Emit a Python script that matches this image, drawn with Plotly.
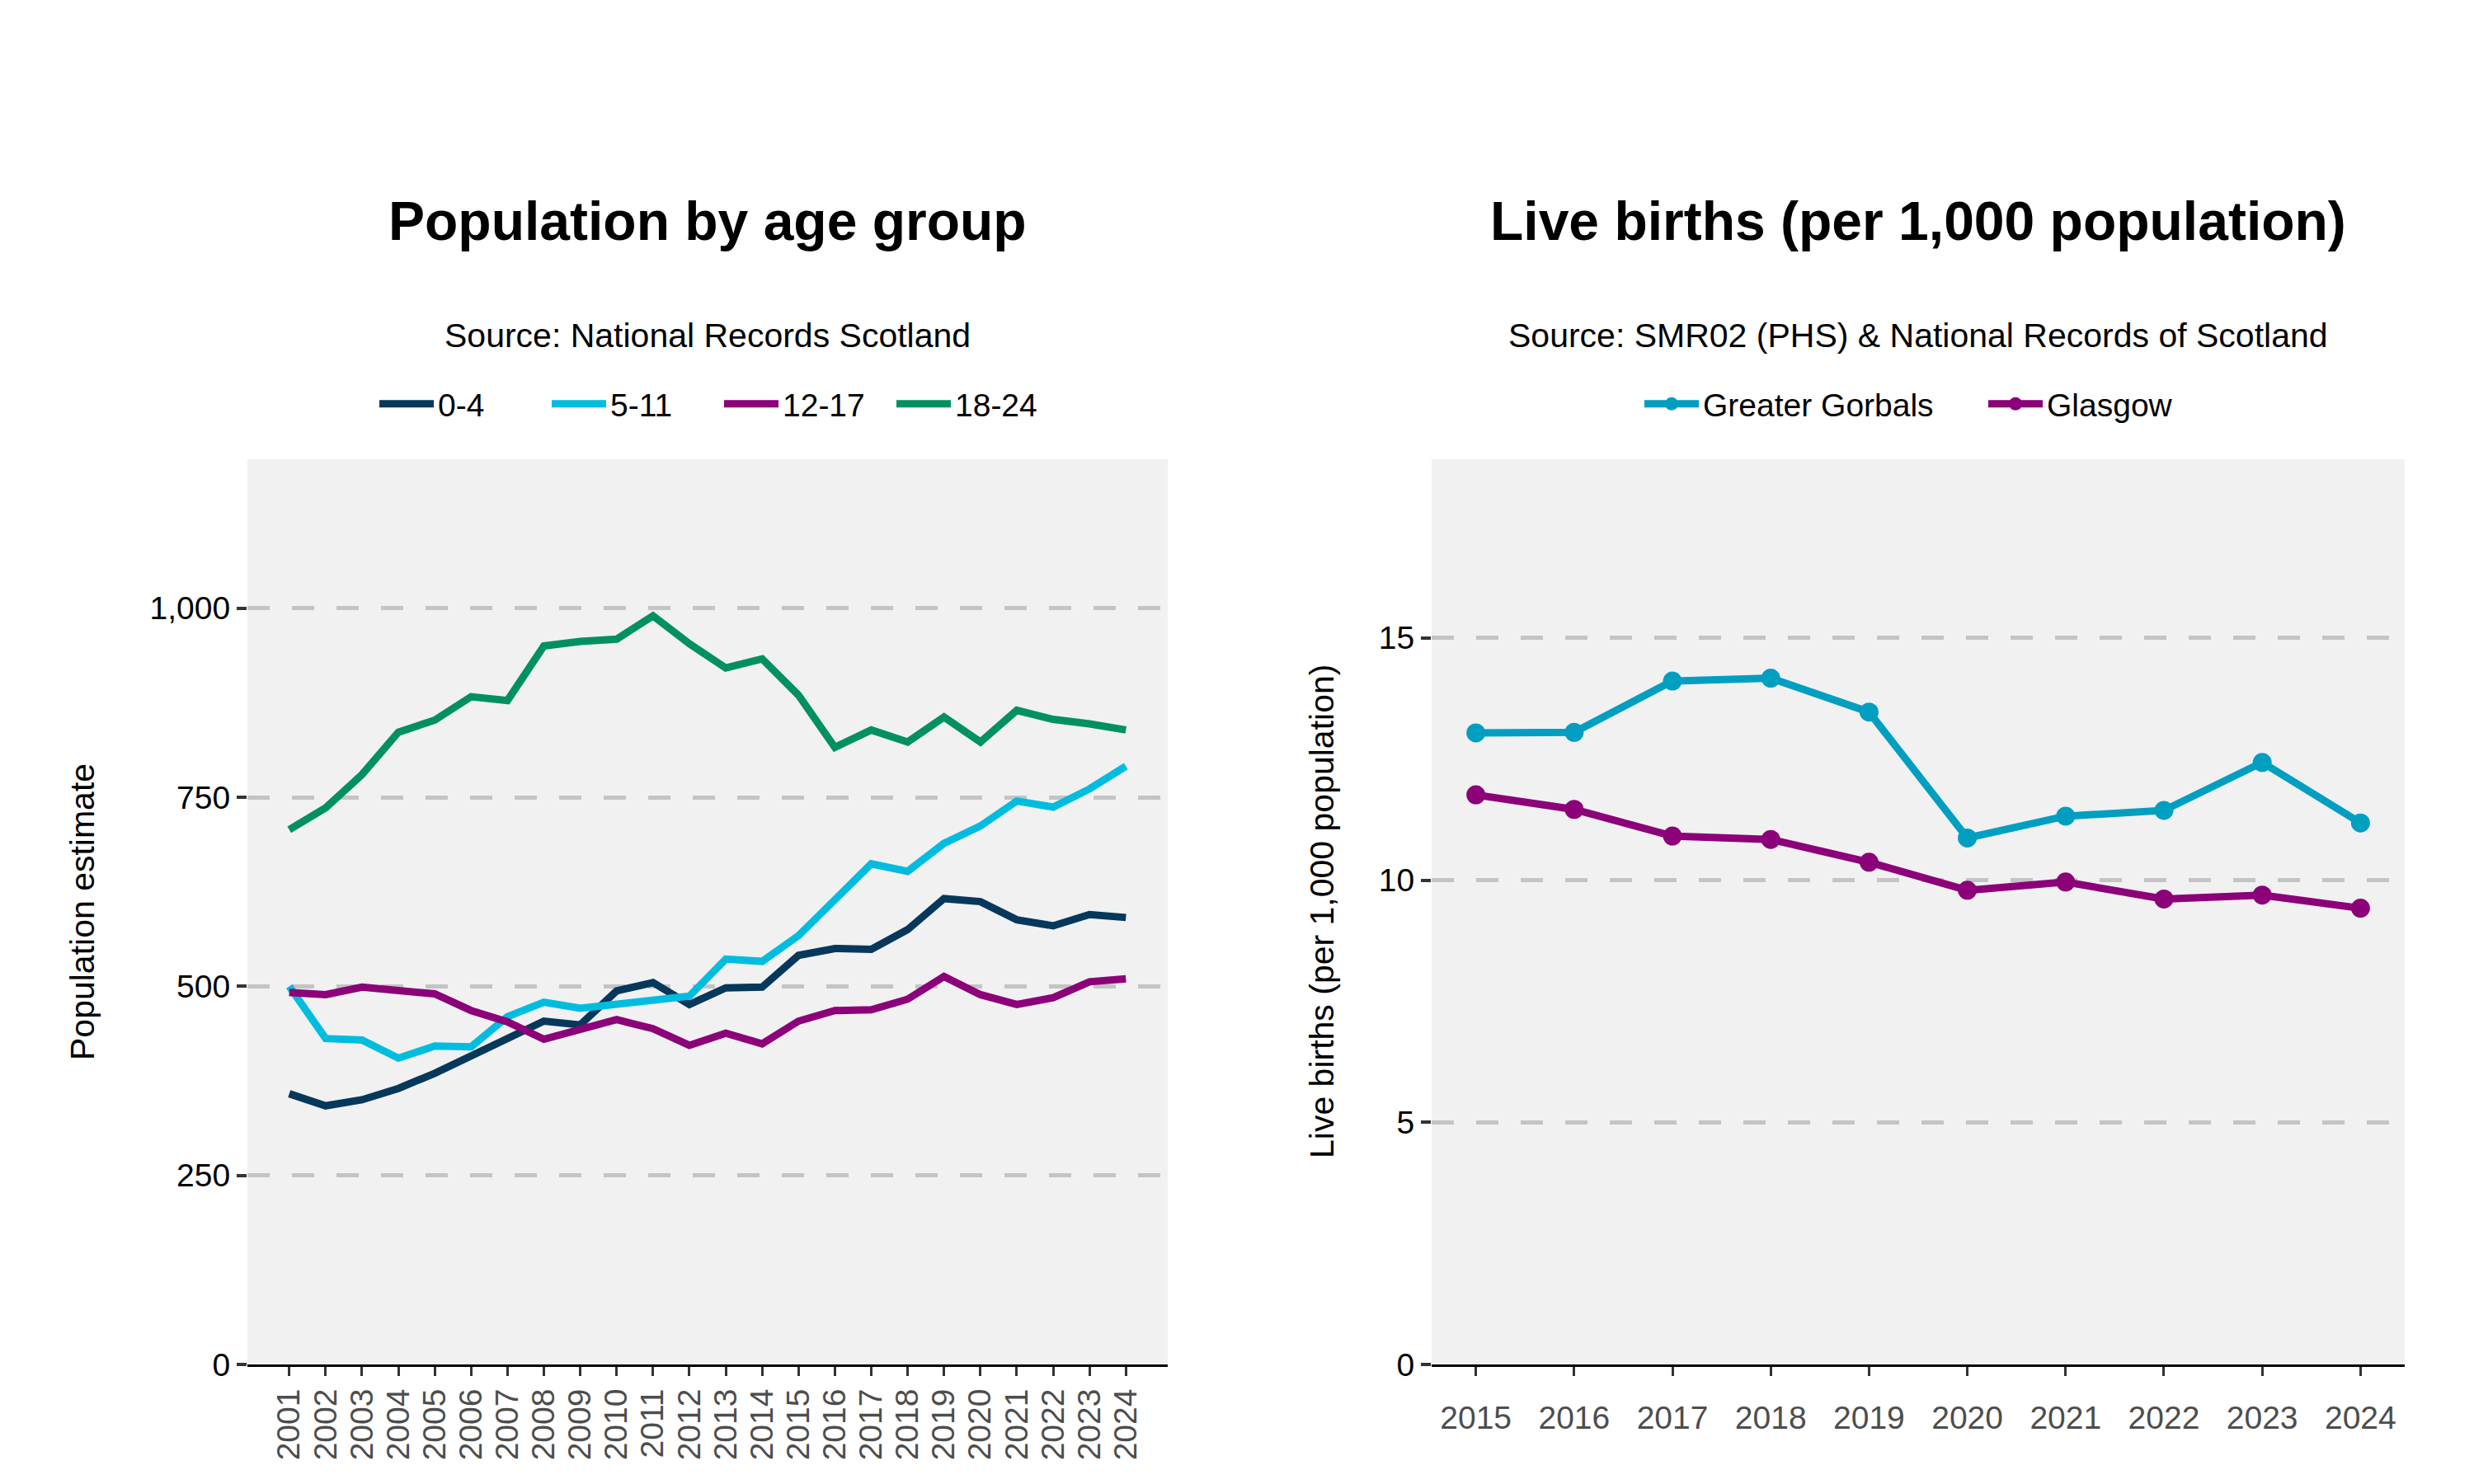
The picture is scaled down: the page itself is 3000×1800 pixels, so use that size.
import plotly.graph_objects as go

# ---------------- Data ----------------
years_pop = list(range(2001, 2025))
age_0_4 = [358, 342, 350, 365, 385, 408, 429, 454, 449, 494, 505, 476, 498, 499,
           541, 550, 549, 575, 616, 612, 588, 580, 595, 591]
age_5_11 = [500, 431, 429, 405, 421, 420, 460, 479, 471, 476, 480, 487, 536, 533,
            567, 615, 662, 652, 689, 712, 745, 737, 761, 791]
age_12_17 = [492, 489, 499, 494, 490, 468, 453, 430, 444, 456, 444, 422, 438, 424,
             454, 468, 469, 483, 513, 489, 476, 485, 506, 510]
age_18_24 = [707, 736, 780, 836, 852, 883, 878, 950, 956, 959, 990, 953, 921, 933,
             885, 816, 839, 823, 856, 823, 865, 853, 847, 839]
pop_series = ["0-4", "5-11", "12-17", "18-24"]

years_births = list(range(2015, 2025))
greater_gorbals = [13.04, 13.05, 14.11, 14.17, 13.47, 10.87, 11.32, 11.44, 12.43, 11.18]
glasgow = [11.76, 11.46, 10.91, 10.84, 10.37, 9.79, 9.96, 9.61, 9.69, 9.42]

pop_ticks = [0, 250, 500, 750, 1000]
birth_ticks = [0, 5, 10, 15]

# ---------------- Styles ----------------
FONT = "Liberation Sans"
c_navy = "#06385b"
c_cyan = "#00bde0"
c_purple = "#8c0079"
c_green = "#00915f"
c_teal = "#009fc2"
grid_col = "#c4c4c4"
bg_col = "#f1f1f1"

W, H = 3000, 1800
def px_x(p):
    return p / W
def px_y(p):
    return 1 - p / H

fig = go.Figure()

pop_data = [age_0_4, age_5_11, age_12_17, age_18_24]
pop_cols = [c_navy, c_cyan, c_purple, c_green]
for name, vals, col in zip(pop_series, pop_data, pop_cols):
    fig.add_trace(go.Scatter(
        x=years_pop, y=vals, name=name, mode="lines",
        line=dict(color=col, width=9), xaxis="x", yaxis="y", legend="legend"))

for name, vals, col in [("Greater Gorbals", greater_gorbals, c_teal),
                        ("Glasgow", glasgow, c_purple)]:
    fig.add_trace(go.Scatter(
        x=years_births, y=vals, name=name, mode="lines+markers",
        line=dict(color=col, width=9), marker=dict(color=col, size=23),
        xaxis="x2", yaxis="y2", legend="legend2"))

ydom = [px_y(1655), px_y(557)]
axis_common_y = dict(
    showline=False, ticks="outside", ticklen=12, tickwidth=4, tickcolor="#333333",
    tickfont=dict(family=FONT, size=39, color="#000000"),
    showgrid=True, gridcolor=grid_col, gridwidth=5, griddash="27px,27px",
    zeroline=False, domain=ydom, automargin=False)
axis_common_x = dict(
    showline=True, linecolor="#000000", linewidth=3, ticks="outside", ticklen=11,
    tickwidth=3, tickcolor="#333333", showgrid=False, zeroline=False,
    automargin=False,
    tickfont=dict(family=FONT, size=39, color="#4d4d4d"))

fig.update_layout(
    width=W, height=H,
    margin=dict(l=0, r=0, t=0, b=0, autoexpand=False),
    paper_bgcolor="white", plot_bgcolor=bg_col,
    font=dict(family=FONT, size=39, color="#000000"),
    xaxis=dict(axis_common_x, domain=[px_x(300), px_x(1416)],
               range=[2001 - 1.15, 2024 + 1.15], tickvals=years_pop,
               ticktext=[str(y) for y in years_pop], tickangle=-90, anchor="y"),
    yaxis=dict(axis_common_y, range=[0, 1197], tickvals=pop_ticks,
               tickformat=",", anchor="x"),
    xaxis2=dict(axis_common_x, domain=[px_x(1736), px_x(2916)],
                range=[2015 - 0.45, 2024 + 0.45], tickvals=years_births,
                ticktext=[str(y) for y in years_births], tickangle=0,
                ticklabelstandoff=17, anchor="y2"),
    yaxis2=dict(axis_common_y, range=[0, 18.69], tickvals=birth_ticks, anchor="x2"),
    legend=dict(orientation="h", x=px_x(455), xanchor="left",
                y=px_y(490), yanchor="middle", font=dict(family=FONT, size=39),
                bgcolor="rgba(0,0,0,0)", itemwidth=66, entrywidth=128),
    legend2=dict(orientation="h", x=px_x(1989), xanchor="left",
                 y=px_y(490), yanchor="middle", font=dict(family=FONT, size=39),
                 bgcolor="rgba(0,0,0,0)", itemwidth=66, entrywidth=336),
    showlegend=True,
)

annotations = [
    dict(text="<b>Population by age group</b>", x=(px_x(300) + px_x(1416)) / 2,
         y=px_y(268), font=dict(family=FONT, size=66, color="#000000")),
    dict(text="<b>Live births (per 1,000 population)</b>",
         x=(px_x(1736) + px_x(2916)) / 2,
         y=px_y(268), font=dict(family=FONT, size=66, color="#000000")),
    dict(text="Source: National Records Scotland", x=(px_x(300) + px_x(1416)) / 2,
         y=px_y(407), font=dict(family=FONT, size=41, color="#000000")),
    dict(text="Source: SMR02 (PHS) & National Records of Scotland",
         x=(px_x(1736) + px_x(2916)) / 2, y=px_y(407),
         font=dict(family=FONT, size=41, color="#000000")),
    dict(text="Population estimate", x=px_x(100), y=px_y(1106), textangle=-90,
         font=dict(family=FONT, size=41, color="#000000")),
    dict(text="Live births (per 1,000 population)", x=px_x(1603), y=px_y(1106),
         textangle=-90, font=dict(family=FONT, size=41, color="#000000")),
]
for a in annotations:
    a.update(xref="paper", yref="paper", showarrow=False, xanchor="center",
             yanchor="middle")
fig.update_layout(annotations=annotations)

fig.write_html("out.html")
